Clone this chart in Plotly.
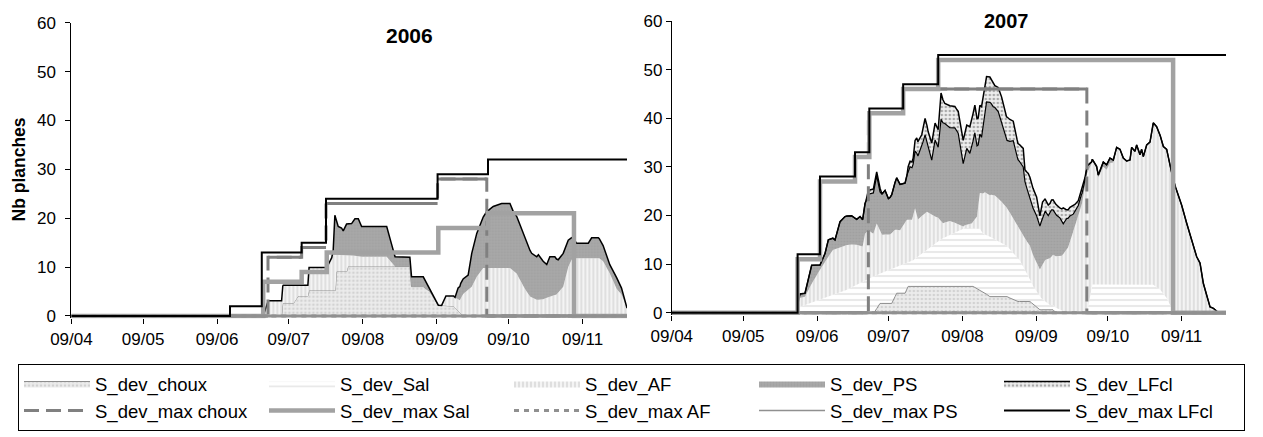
import pandas as pd
import plotly.graph_objects as go

# ---------------- data (day offsets from 9 April, values in "Nb planches") ----------------
START_2006 = "2006-04-09"
START_2007 = "2007-04-09"
END_DAY = 232.6

tick_days = [0, 30, 61, 91, 122, 153, 183, 214]          # 9th of each month Apr..Nov
tick_labels = ["09/04", "09/05", "09/06", "09/07", "09/08", "09/09", "09/10", "09/11"]
y_ticks = [0, 10, 20, 30, 40, 50, 60]

area_names = ["S_dev_choux", "S_dev_Sal", "S_dev_AF", "S_dev_PS", "S_dev_LFcl"]
line_names = ["S_dev_max choux", "S_dev_max Sal", "S_dev_max AF", "S_dev_max PS", "S_dev_max LFcl"]

# ---- 2006 ----
choux_2006 = [(0, 0), (88.0, 0), (88.5, 2.6), (93.0, 2.6), (95.0, 4.1), (99.0, 4.1), (99.5, 5.2),
              (110.5, 5.2), (111.0, 9.1), (115.3, 9.1), (115.8, 10.1), (141.7, 10.1), (142.4, 6.0),
              (147.3, 6.0), (150.1, 5.0), (151.5, 3.8), (153.6, 2.2), (160.0, 2.0), (164.0, 0), (232.6, 0)]
sal_2006 = [(0, 0), (232.6, 0)]
af_2006 = [(0, 0), (80.3, 0), (82.4, 3.1), (88.0, 3.1), (88.7, 3.7), (93.0, 3.7), (95.0, 2.2), (99.0, 2.2),
           (99.5, 4.7), (106.9, 4.7), (109.6, 7.3), (110.5, 7.3), (111.0, 3.4), (115.3, 3.4), (115.8, 2.4),
           (121.5, 2.0), (132.0, 2.0), (135.5, 0), (155.0, 0), (156.8, 2.0), (160.6, 2.1), (162.6, 2.5),
           (164.0, 4.5), (167.6, 6.0), (169.7, 8.0), (172.4, 9.8), (183.6, 9.8), (186.4, 8.7), (189.2, 6.0),
           (192.0, 4.0), (194.8, 3.3), (197.5, 3.4), (200.3, 4.0), (203.1, 4.4), (205.9, 6.0), (208.0, 10.0),
           (209.4, 11.5), (210.4, 11.8), (221.0, 11.8), (222.6, 11.2), (225.4, 8.7), (228.3, 5.5),
           (230.3, 4.4), (232.6, 1.6)]
ps_2006 = [(0, 0), (109.0, 0), (109.6, 1.0), (110.3, 8.1), (111.7, 5.8), (113.1, 5.5), (113.8, 4.9),
           (115.2, 6.3), (117.3, 6.5), (118.7, 7.6), (120.1, 7.7), (121.5, 6.2), (132.0, 6.2), (134.0, 3.8),
           (135.5, 2.0), (141.7, 1.9), (142.4, 2.0), (147.3, 2.0), (150.1, 0.3), (151.5, 0.2), (153.6, 0),
           (160.6, 0), (161.9, 2.3), (163.0, 3.1), (166.1, 3.0), (167.6, 6.8), (169.7, 8.9), (171.7, 9.9),
           (173.8, 11.5), (176.6, 12.6), (180.1, 13.2), (183.6, 13.2), (185.0, 12.1), (187.1, 11.5),
           (189.9, 10.6), (192.7, 9.0), (194.8, 8.8), (195.5, 9.2), (197.5, 7.8), (199.0, 6.8), (200.3, 8.1),
           (202.4, 7.8), (203.8, 6.7), (205.9, 6.8), (208.0, 5.5), (209.4, 4.5), (211.5, 3.1), (216.4, 3.1),
           (217.8, 4.2), (220.6, 4.2), (222.6, 3.2), (225.4, 1.8), (228.3, 2.3), (230.3, 1.3), (232.6, 0)]
lfcl_2006 = [(0, 0), (232.6, 0)]

max_choux_2006 = [(0, 0), (82.3, 12), (96.4, 14), (106.6, 23), (153.3, 28), (173.9, 0), (232.6, 0)]
max_sal_2006 = [(0, 0), (80.3, 7), (96.4, 9), (106.9, 13), (153.6, 18), (174.4, 21), (210.4, 0), (232.6, 0)]
max_af_2006 = [(0, 0), (232.6, 0)]
max_ps_2006 = [(0, 0), (232.6, 0)]
max_lfcl_2006 = [(0, 0), (66.4, 2), (79.7, 13), (96.4, 15), (106.6, 24), (153.3, 29), (174.4, 32), (232.6, 32)]

# ---- 2007 ----
choux_2007 = [(0, 0), (84.9, 0), (87.4, 1.9), (92.3, 1.9), (94.4, 4.0), (97.9, 4.0), (99.2, 5.4),
              (126.4, 5.4), (130.6, 4.3), (133.5, 3.3), (140.7, 3.3), (144.9, 2.3), (150.3, 2.3),
              (154.5, 0.6), (160.0, 0.6), (161.2, 0), (232.6, 0)]
sal_2007 = [(0, 0), (52.4, 0), (53.8, 1.2), (63.4, 3.0), (73.5, 4.7), (80.0, 6.4), (84.9, 7.5), (87.4, 6.2),
            (92.3, 7.1), (94.4, 5.5), (97.9, 6.2), (99.2, 5.0), (101.3, 5.4), (112.5, 9.6), (123.0, 12.0),
            (126.4, 12.0), (129.3, 12.6), (130.6, 12.0), (134.0, 12.2), (138.0, 11.2), (142.0, 10.0),
            (146.0, 8.5), (149.0, 5.8), (151.6, 3.7), (155.0, 2.4), (158.7, 1.0), (161.2, 1.0), (163.0, 0.6),
            (165.4, 0), (174.3, 0), (176.5, 5.8), (202.0, 5.8), (205.0, 4.7), (207.7, 3.0), (210.2, 0.5),
            (211.5, 0), (232.6, 0)]
af_2007 = [(0, 0), (52.4, 0), (53.8, 1.8), (55.9, 1.7), (58.0, 3.4), (63.4, 6.8), (67.6, 9.2), (73.5, 9.2),
           (76.9, 8.5), (80.1, 7.2), (81.1, 9.6), (82.5, 10.0), (84.6, 8.8), (86.0, 10.6), (88.2, 7.8),
           (91.6, 7.2), (93.7, 7.7), (95.8, 7.2), (98.7, 8.8), (100.8, 8.4), (102.1, 10.4), (103.3, 7.6),
           (105.4, 7.8), (107.1, 7.8), (109.2, 6.3), (111.8, 4.8), (113.8, 3.1), (116.7, 2.9), (119.7, 1.7),
           (122.3, 0.5), (126.0, 1.0), (128.1, 2.5), (129.3, 7.4), (131.4, 8.7), (133.5, 8.7), (135.6, 9.0),
           (137.7, 8.6), (141.9, 7.5), (146.1, 6.3), (150.3, 6.7), (154.5, 5.7), (156.7, 8.5), (160.0, 10.3),
           (163.7, 11.3), (166.3, 13.4), (169.2, 17.7), (172.2, 22.5), (174.3, 28.7), (176.2, 25.7),
           (178.3, 23.8), (179.0, 22.0), (181.1, 24.2), (182.5, 23.6), (183.9, 25.0), (185.3, 25.1),
           (186.7, 27.9), (188.1, 27.8), (189.5, 26.0), (190.9, 25.4), (192.3, 25.6), (193.0, 28.2),
           (194.4, 27.4), (195.1, 28.7), (196.5, 26.7), (197.2, 27.8), (197.9, 26.3), (199.3, 28.7),
           (200.7, 29.3), (202.1, 33.3), (203.5, 33.0), (204.9, 31.8), (206.3, 30.3), (207.7, 30.6),
           (209.8, 27.9), (211.9, 25.2), (214.0, 22.1), (216.1, 18.4), (218.2, 15.0), (220.3, 11.5),
           (221.7, 10.2), (223.1, 6.0), (224.5, 3.6), (225.9, 1.2), (227.3, 0.9), (228.7, 0.3), (229.4, 0),
           (232.6, 0)]
ps_2007 = [(0, 0), (52.4, 0), (53.2, 0.9), (55.9, 0.7), (58.7, 3.8), (62.2, 1.0), (64.3, 1.7), (65.7, 3.5),
           (68.5, 1.9), (70.6, 5.3), (72.7, 6.0), (75.5, 5.9), (77.6, 5.2), (79.0, 6.0), (80.1, 5.5),
           (81.1, 6.2), (82.5, 7.4), (84.6, 8.4), (86.0, 9.8), (87.4, 7.9), (89.5, 9.1), (90.9, 7.4),
           (92.3, 7.9), (94.4, 10.7), (95.8, 9.4), (97.9, 8.1), (100.0, 10.9), (101.3, 10.6), (102.8, 12.7),
           (104.9, 14.3), (106.3, 16.1), (107.6, 13.2), (109.1, 11.3), (110.5, 15.7), (111.8, 14.5),
           (113.0, 20.9), (114.6, 20.4), (116.7, 19.2), (118.8, 19.5), (120.2, 18.7), (122.3, 12.9),
           (123.8, 15.7), (125.1, 14.5), (127.2, 17.8), (128.6, 12.7), (130.0, 11.5), (132.1, 18.8),
           (133.5, 19.1), (134.9, 18.2), (137.0, 17.9), (138.4, 16.2), (140.5, 13.8), (141.9, 14.7),
           (143.3, 16.1), (145.3, 13.9), (147.5, 14.1), (148.2, 11.7), (149.6, 10.4), (151.0, 9.7),
           (153.1, 9.6), (154.5, 8.9), (155.6, 9.7), (156.6, 10.1), (158.0, 8.9), (159.4, 9.6), (161.5, 8.4),
           (162.9, 7.8), (164.3, 6.2), (165.7, 6.5), (167.1, 5.3), (168.5, 3.6), (170.6, 2.1), (172.0, 2.2),
           (173.4, 1.2), (174.3, 1.5), (176.2, 0.3), (178.3, 0.5), (179.0, 0.5), (181.1, 1.0), (183.9, 1.0),
           (185.3, 0.5), (186.7, 0.3), (188.1, 0), (232.6, 0)]
lfcl_2007 = [(0, 0), (81.5, 0), (82.5, 0.8), (87.4, 0.8), (88.2, 0), (98.7, 0), (99.2, 1.1), (101.3, 1.2),
             (102.8, 3.1), (104.9, 2.4), (106.3, 3.4), (107.6, 3.4), (109.1, 3.5), (110.5, 3.5), (111.8, 3.6),
             (113.0, 5.4), (114.6, 4.1), (116.7, 4.5), (119.7, 4.4), (122.3, 4.8), (123.8, 4.8), (125.1, 5.5),
             (127.2, 5.7), (128.6, 5.5), (130.0, 6.3), (132.1, 5.2), (133.5, 5.2), (135.6, 4.5), (138.4, 5.4),
             (141.9, 4.5), (145.3, 3.3), (147.5, 3.8), (148.2, 2.4), (149.6, 4.0), (151.0, 4.1), (153.1, 3.9),
             (154.5, 2.1), (155.6, 3.2), (156.6, 2.5), (158.7, 2.0), (161.5, 2.1), (162.9, 2.0), (164.3, 3.3),
             (165.8, 1.7), (167.1, 1.8), (168.5, 1.7), (170.6, 1.0), (172.2, 1.2), (173.4, 0.5), (174.3, 0),
             (232.6, 0)]

max_choux_2007 = [(0, 0), (82.5, 41), (97.1, 46), (174.2, 0), (232.6, 0)]
max_sal_2007 = [(0, 0), (52.8, 11), (62.2, 27), (76.9, 32), (82.9, 41), (97.1, 46), (111.8, 52), (210.4, 0), (232.6, 0)]
max_af_2007 = [(0, 0), (232.6, 0)]
max_ps_2007 = [(0, 0), (232.6, 0)]
max_lfcl_2007 = [(0, 0), (52.8, 12), (62.2, 28), (76.9, 33), (82.9, 42), (97.1, 47), (111.8, 53), (232.6, 53)]

years = [
    dict(start=START_2006, title="2006", xa="x", ya="y", legend=True,
         areas=[choux_2006, sal_2006, af_2006, ps_2006, lfcl_2006],
         lines=[max_choux_2006, max_sal_2006, max_af_2006, max_ps_2006, max_lfcl_2006]),
    dict(start=START_2007, title="2007", xa="x2", ya="y2", legend=False,
         areas=[choux_2007, sal_2007, af_2007, ps_2007, lfcl_2007],
         lines=[max_choux_2007, max_sal_2007, max_af_2007, max_ps_2007, max_lfcl_2007]),
]

# ---------------- styles ----------------
area_styles = [
    dict(fillpattern=dict(shape=".", bgcolor="#ececec", fgcolor="#b8b8b8", size=4, solidity=0.35),
         line=dict(color="#8c8c8c", width=1)),
    dict(fillpattern=dict(shape="-", bgcolor="#ffffff", fgcolor="#d4d4d4", size=6, solidity=0.35),
         line=dict(color="#d4d4d4", width=0)),
    dict(fillpattern=dict(shape="|", bgcolor="#f4f4f4", fgcolor="#c6c6c6", size=4, solidity=0.45),
         line=dict(color="#c6c6c6", width=0)),
    dict(fillpattern=dict(shape=".", bgcolor="#a9a9a9", fgcolor="#959595", size=3, solidity=0.4),
         line=dict(color="#a0a0a0", width=0)),
    dict(fillpattern=dict(shape=".", bgcolor="#eeeeee", fgcolor="#666666", size=4, solidity=0.35),
         line=dict(color="black", width=1.5)),
]
line_styles = [
    dict(color="#808080", width=3, dash="15px,7px"),
    dict(color="#a2a2a2", width=4.5),
    dict(color="#909090", width=3, dash="5px,5px"),
    dict(color="#909090", width=1.5),
    dict(color="black", width=2),
]


def to_dates(start, days):
    base = pd.Timestamp(start)
    return [None if d is None else base + pd.Timedelta(days=float(d)) for d in days]


fig = go.Figure()

for yr in years:
    group = "stack" + yr["title"]
    for i, (name, pts, st) in enumerate(zip(area_names, yr["areas"], area_styles)):
        days = [p[0] for p in pts]
        vals = [p[1] for p in pts]
        line = dict(st["line"])
        if name == "S_dev_PS" and not yr["legend"]:
            line = dict(color="black", width=1.2)
        fig.add_trace(go.Scatter(
            x=to_dates(yr["start"], days), y=vals, name=name, mode="lines",
            stackgroup=group, stackgaps="interpolate", fillpattern=st["fillpattern"],
            line=line, xaxis=yr["xa"], yaxis=yr["ya"],
            showlegend=yr["legend"], legendrank=100 + i, hoverinfo="skip"))
    for i, (name, pts, st) in enumerate(zip(line_names, yr["lines"], line_styles)):
        days = [p[0] for p in pts]
        vals = [p[1] for p in pts]
        fig.add_trace(go.Scatter(
            x=to_dates(yr["start"], days), y=vals, name=name, mode="lines",
            line=dict(shape="hv", **st), xaxis=yr["xa"], yaxis=yr["ya"],
            showlegend=yr["legend"], legendrank=200 + i, hoverinfo="skip"))
        if "dash" in st:
            # dense daily points make the dashes look solid on the flat parts
            hx, hy = [], []
            for (d0, v), (d1, _) in zip(pts[:-1], pts[1:]):
                hx += [d0, d1, None]
                hy += [v, v, None]
            fig.add_trace(go.Scatter(
                x=to_dates(yr["start"], hx), y=hy, mode="lines",
                line=dict(color=st["color"], width=st["width"]),
                xaxis=yr["xa"], yaxis=yr["ya"], showlegend=False, hoverinfo="skip"))

W, H = 1263, 437
OFF = 8  # page body margin offset of the plot div
font_family = "Liberation Sans, Arial, sans-serif"


def fx(px):
    return (px - OFF) / W


def fy(py):
    return 1 - (py - OFF) / H


def xaxis_cfg(start, dom):
    return dict(domain=dom, type="date",
                range=to_dates(start, [0, END_DAY]),
                tickvals=to_dates(start, tick_days), ticktext=tick_labels,
                ticks="outside", ticklen=5, tickcolor="black", tickwidth=1,
                showline=False, showgrid=False, zeroline=False, automargin=False,
                tickfont=dict(size=17, color="black", family=font_family))


def yaxis_cfg(anchor, dom, standoff):
    return dict(domain=dom, anchor=anchor, range=[-0.5, 60], tickvals=y_ticks,
                ticks="outside", ticklen=5, tickcolor="black", tickwidth=1,
                showline=True, linecolor="black", linewidth=1, showgrid=False,
                zeroline=True, zerolinecolor="black", zerolinewidth=1, automargin=False,
                ticklabelstandoff=standoff,
                tickfont=dict(size=17, color="black", family=font_family))


fig.update_layout(
    width=W, height=H, margin=dict(l=0, r=0, t=0, b=0, pad=0, autoexpand=False),
    paper_bgcolor="white", plot_bgcolor="white",
    font=dict(family=font_family, size=17, color="black"),
    xaxis=xaxis_cfg(START_2006, [fx(71.4), fx(627)]),
    yaxis=yaxis_cfg("x", [fy(318.4), fy(22.7)], 6),
    xaxis2=xaxis_cfg(START_2007, [fx(671.8), fx(1226)]) | dict(anchor="y2"),
    yaxis2=yaxis_cfg("x2", [fy(315.1), fy(21)], 0),
    showlegend=True,
    legend=dict(orientation="h", x=fx(18), xanchor="left", y=fy(364), yanchor="top",
                bordercolor="black", borderwidth=1, bgcolor="white",
                font=dict(size=18.5, color="black", family=font_family),
                itemwidth=66, entrywidth=164, entrywidthmode="pixels",
                traceorder="normal", tracegroupgap=0),
    annotations=[
        dict(text="<b>2006</b>", x=fx(409), y=fy(35.5), xref="paper", yref="paper",
             xanchor="center", yanchor="middle",
             showarrow=False, font=dict(size=21, family=font_family, color="black")),
        dict(text="<b>2007</b>", x=fx(1006), y=fy(21), xref="paper", yref="paper",
             xanchor="center", yanchor="middle",
             showarrow=False, font=dict(size=20, family=font_family, color="black")),
        dict(text="<b>Nb planches</b>", x=fx(18), y=fy(169.5), xref="paper", yref="paper",
             xanchor="center", yanchor="middle",
             showarrow=False, textangle=-90, font=dict(size=17.5, family=font_family, color="black")),
    ],
)

fig.write_html("out.html")
